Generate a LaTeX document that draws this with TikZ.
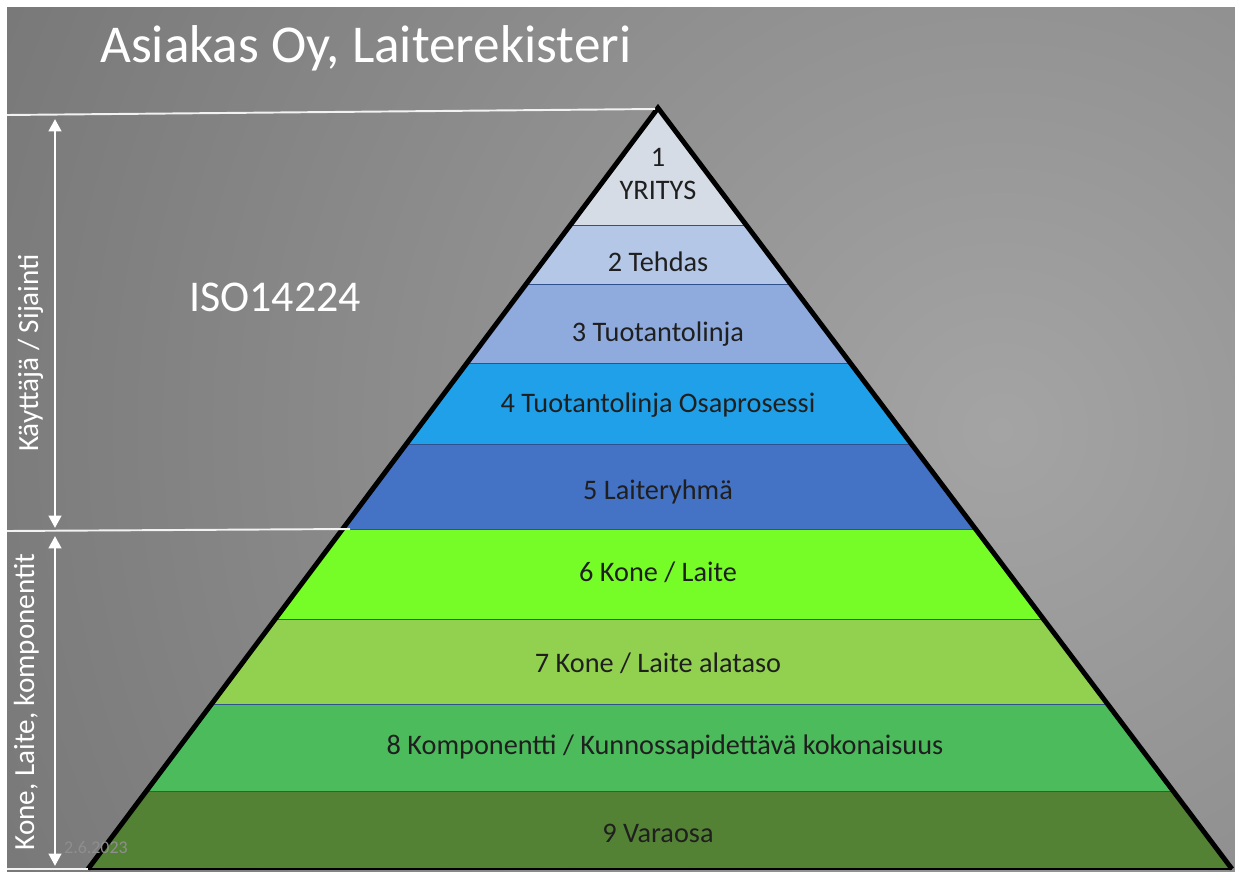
\documentclass[tikz,border=0pt]{standalone}
\usepackage{fontspec}
\setmainfont{Carlito}
\usetikzlibrary{arrows.meta}

\definecolor{bgin}{HTML}{A4A4A4}
\definecolor{bgout}{HTML}{6C6C6C}
\definecolor{lay1}{HTML}{D6DCE5}
\definecolor{lay2}{HTML}{B4C7E7}
\definecolor{lay3}{HTML}{8FAADC}
\definecolor{lay4}{HTML}{20A0E8}
\definecolor{lay5}{HTML}{4472C4}
\definecolor{lay6}{HTML}{76FC26}
\definecolor{lay7}{HTML}{92D050}
\definecolor{lay8}{HTML}{4CBB5C}
\definecolor{lay9}{HTML}{548235}
\definecolor{sepcol}{HTML}{2F528F}
\definecolor{datecol}{HTML}{8E8E8E}

\begin{document}
\begin{tikzpicture}[x=0.02cm, y=-0.02cm]
    \tikzset{layer/.style={font=\fontsize{16.1}{18.7}\selectfont, text=black!88, align=center}}
    \tikzset{sidelbl/.style={rotate=90, anchor=base, text=white, font=\fontsize{16.6}{20}\selectfont}}
    \tikzset{span/.style={white, line width=1.7pt, {Triangle[width=7pt, length=7pt]}-{Triangle[width=7pt, length=7pt]}}}
    \tikzset{guide/.style={white!90!gray, line width=1.1pt}}
    \tikzset{sep/.style={sepcol, line width=0.8pt}}
    \tikzset{edge/.style={black, line width=2.8pt, line join=miter}}

    % ── TAUSTA ───────────────────────────────────────────
    \fill[white] (0,0) rectangle (1235,872);
    \begin{scope}
        \clip (7,7) rectangle (1235,872);
        \shade[inner color=bgin, outer color=bgout] (1000,430) circle (1400);
    \end{scope}

    % Otsikko
    \node[anchor=base west, text=white, font=\fontsize{30.3}{36}\selectfont] (title) at (94,62) {Asiakas Oy, Laiterekisteri};

    % ── PYRAMIDI ─────────────────────────────────────────
    \coordinate (apex) at (658,108);
    \coordinate (bl) at (88,869);
    \coordinate (br) at (1232,869);

    \begin{scope}
        \clip (apex) -- (bl) -- (br) -- cycle;
        \foreach \ytop/\ybot/\col in {100/226/lay1, 226/285/lay2, 285/364/lay3,
                                     364/445/lay4, 445/530/lay5, 530/620/lay6,
                                     620/705/lay7, 705/792/lay8, 792/869/lay9} {
            \fill[\col] (0,\ytop) rectangle (1235,\ybot);
            \draw[sep] (0,\ybot) -- (1235,\ybot);
        }
    \end{scope}
    \draw[edge] (bl) -- (apex) -- (br);
    \draw[black, line width=1pt] (bl) -- (br);

    % Tasojen tekstit
    \node[layer] (l1) at (658,174) {1\\YRITYS};
    \node[layer] (l2) at (658,262) {2 Tehdas};
    \node[layer] (l3) at (658,334) {3 Tuotantolinja};
    \node[layer] (l4) at (658,405) {4 Tuotantolinja Osaprosessi};
    \node[layer] (l5) at (658,492) {5 Laiteryhmä};
    \node[layer] (l6) at (658,572) {6 Kone / Laite};
    \node[layer] (l7) at (658,663) {7 Kone / Laite alataso};
    \node[layer] (l8) at (665,747) {8 Komponentti / Kunnossapidettävä kokonaisuus};
    \node[layer] (l9) at (658,833) {9 Varaosa};

    % ── VASEN REUNA ──────────────────────────────────────
    \coordinate (g1a) at (7,115);
    \coordinate (g1b) at (655,109);
    \coordinate (g2a) at (7,531);
    \coordinate (g2b) at (350,529);
    \coordinate (g3a) at (7,869);
    \coordinate (g3b) at (88,869);
    \draw[guide] (g1a) -- (g1b);
    \draw[guide] (g2a) -- (g2b);
    \draw[guide] (g3a) -- (g3b);

    \coordinate (u1) at (55,119);
    \coordinate (u2) at (55,528);
    \coordinate (d1) at (55,536);
    \coordinate (d2) at (55,866);
    \draw[span] (u1) -- (u2);
    \draw[span] (d1) -- (d2);

    \node[sidelbl] (usr) at (38,353) {Käyttäjä / Sijainti};
    \node[sidelbl] (dev) at (34,702) {Kone, Laite, komponentit};

    \node[text=white, font=\fontsize{25}{30}\selectfont] (iso) at (275,297) {ISO14224};
    \node[anchor=west, text=datecol, font=\fontsize{10.2}{12}\selectfont] (date) at (58,848) {2.6.2023};

\end{tikzpicture}
\end{document}
